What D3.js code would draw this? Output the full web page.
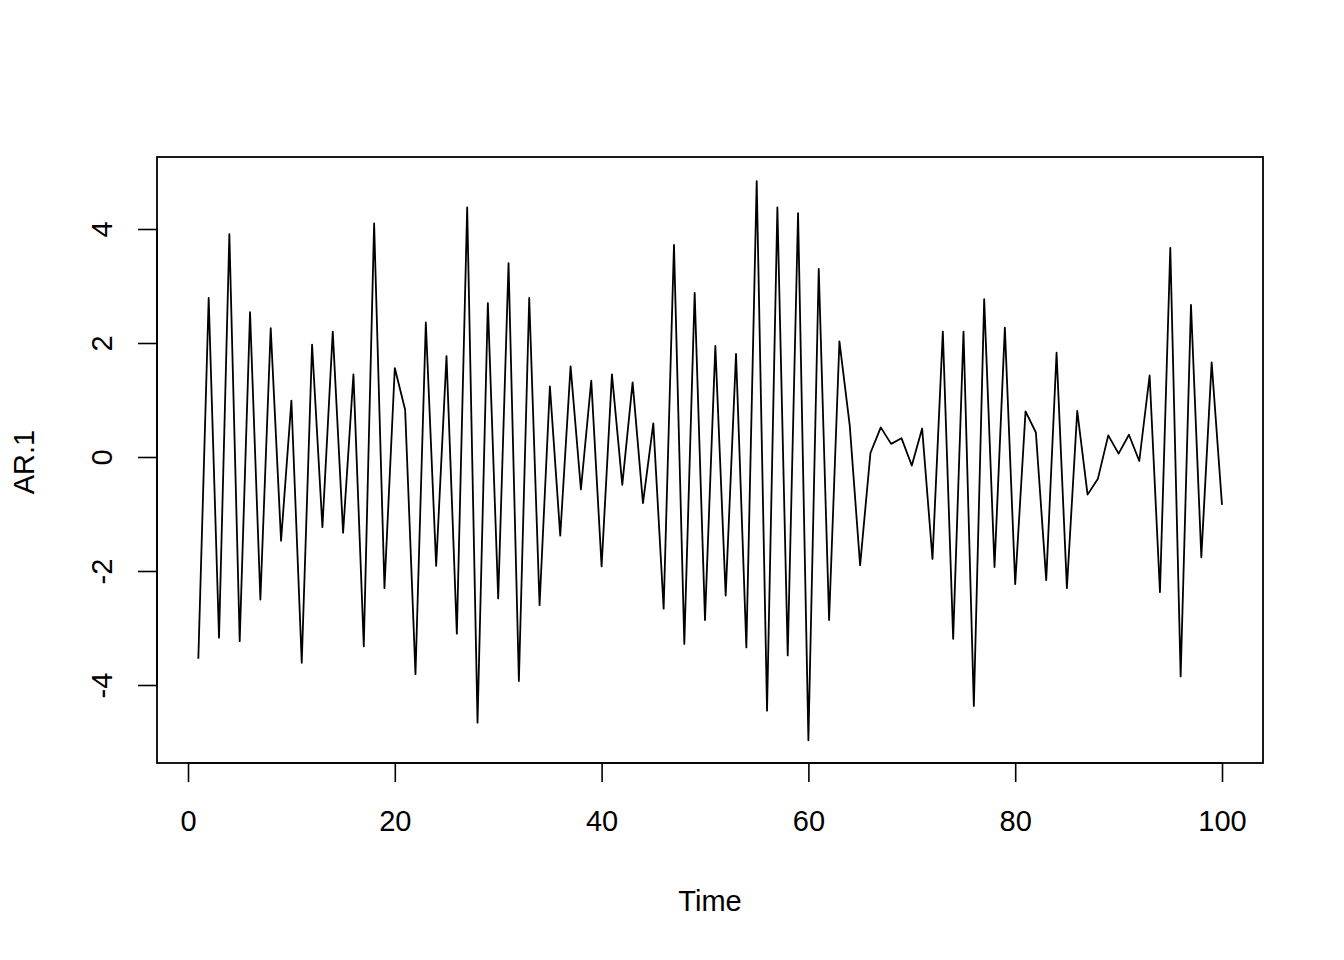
<!DOCTYPE html>
<html>
<head>
<meta charset="utf-8">
<script src="https://cdn.jsdelivr.net/npm/d3@7"></script>
<style>
  html, body { margin: 0; padding: 0; background: #fff; }
  svg { display: block; }
  text { font-family: "Liberation Sans", Arial, sans-serif; fill: #000; }
</style>
</head>
<body>
<svg id="chart" width="1344" height="960"></svg>
<script>
// Data: AR(1) series, t = 1..100
const timeStart = 1;
const values = [
  -3.54, 2.79, -3.17, 3.91, -3.23, 2.54, -2.50, 2.26, -1.47, 0.99,
  -3.61, 1.97, -1.23, 2.20, -1.33, 1.45, -3.32, 4.10, -2.30, 1.56,
   0.83, -3.81, 2.36, -1.91, 1.77, -3.10, 4.38, -4.66, 2.70, -2.48,
   3.40, -3.93, 2.79, -2.60, 1.24, -1.38, 1.59, -0.57, 1.34, -1.92,
   1.45, -0.49, 1.31, -0.81, 0.59, -2.66, 3.72, -3.28, 2.88, -2.86,
   1.95, -2.43, 1.81, -3.34, 4.84, -4.45, 4.38, -3.48, 4.28, -4.97,
   3.30, -2.86, 2.03, 0.55, -1.90, 0.07, 0.52, 0.23, 0.33, -0.15,
   0.50, -1.79, 2.20, -3.19, 2.20, -4.37, 2.77, -1.93, 2.27, -2.23,
   0.80, 0.43, -2.16, 1.83, -2.30, 0.81, -0.66, -0.38, 0.38, 0.06,
   0.39, -0.07, 1.43, -2.37, 3.67, -3.85, 2.67, -1.76, 1.66, -0.84
];
const xTicks = [0, 20, 40, 60, 80, 100];
const yTicks = [-4, -2, 0, 2, 4];
const xLabel = "Time";
const yLabel = "AR.1";

const data = values.map((v, i) => ({ t: timeStart + i, v }));

const box = { left: 157, right: 1263, top: 157, bottom: 763 };
const fontSize = "29px";
const svg = d3.select("#chart");

const x = d3.scaleLinear().domain([0, 100]).range([188, 1222]);
const y = d3.scaleLinear().domain([0, 4]).range([457, 229]);

// series line
svg.append("path")
  .datum(data)
  .attr("fill", "none")
  .attr("stroke", "#000")
  .attr("stroke-width", 1.8)
  .attr("stroke-linejoin", "round")
  .attr("d", d3.line().x(d => x(d.t)).y(d => y(d.v)));

// box
svg.append("rect")
  .attr("x", box.left).attr("y", box.top)
  .attr("width", box.right - box.left).attr("height", box.bottom - box.top)
  .attr("fill", "none").attr("stroke", "#000").attr("stroke-width", 1.8);

const fmt = d => String(d);

// x axis
const xAxis = d3.axisBottom(x).tickValues(xTicks).tickSize(19).tickPadding(0).tickFormat(fmt);
const gx = svg.append("g").attr("transform", `translate(0,${box.bottom})`).call(xAxis);
gx.select(".domain").attr("d", `M${x(0)},0H${x(100)}`).attr("stroke-width", 1.6);
gx.selectAll(".tick line").attr("stroke-width", 1.6);
gx.selectAll(".tick text")
  .attr("y", 68).attr("dy", null)
  .style("font-size", fontSize).style("font-family", "Liberation Sans, Arial, sans-serif");

// y axis
const yAxis = d3.axisLeft(y).tickValues(yTicks).tickSize(19).tickFormat(fmt);
const gy = svg.append("g").attr("transform", `translate(${box.left},0)`).call(yAxis);
gy.select(".domain").attr("d", `M0,${y(-4)}V${y(4)}`).attr("stroke-width", 1.6);
gy.selectAll(".tick line").attr("stroke-width", 1.6);
gy.selectAll(".tick text")
  .attr("x", null).attr("dy", null)
  .attr("text-anchor", "middle")
  .attr("transform", "translate(-45.5,0) rotate(-90)")
  .style("font-size", fontSize).style("font-family", "Liberation Sans, Arial, sans-serif");

// axis titles
svg.append("text")
  .attr("x", (box.left + box.right) / 2).attr("y", 911)
  .attr("text-anchor", "middle").style("font-size", fontSize)
  .text(xLabel);

svg.append("text")
  .attr("transform", `translate(34,${(box.top + box.bottom) / 2 + 2}) rotate(-90)`)
  .attr("text-anchor", "middle").style("font-size", fontSize)
  .text(yLabel);
</script>
</body>
</html>
